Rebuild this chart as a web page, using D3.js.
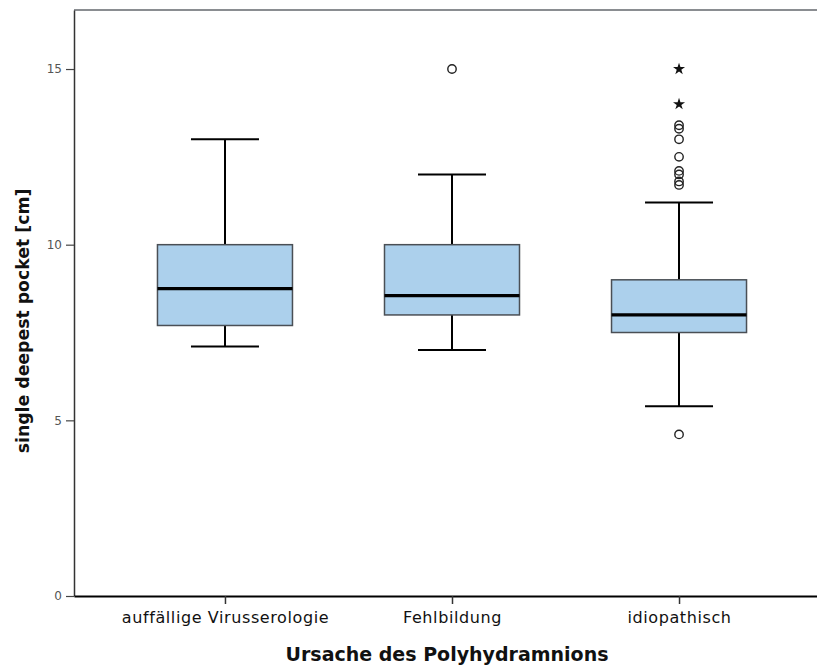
<!DOCTYPE html>
<html>
<head>
<meta charset="utf-8">
<script src="https://cdn.jsdelivr.net/npm/d3@7"></script>
<style>
  html, body { margin: 0; padding: 0; background: #fff; }
  svg { display: block; }
</style>
</head>
<body>
<svg id="chart" width="817" height="666"></svg>
<script>
// Categories (cause of polyhydramnios)
const categories = ["auffällige Virusserologie", "Fehlbildung", "idiopathisch"];

// Box statistics per category [cm]
const lowerWhisker = [7.1, 7.0, 5.4];
const q1           = [7.7, 8.0, 7.5];
const median       = [8.75, 8.55, 8.0];
const q3           = [10.0, 10.0, 9.0];
const upperWhisker = [13.0, 12.0, 11.2];

// Outliers (circles) and extreme values (stars)
const outliers = [
  [],
  [15.0],
  [13.4, 13.3, 13.0, 12.5, 12.1, 12.0, 11.8, 11.7, 4.6]
];
const extremes = [
  [],
  [],
  [15.0, 14.0]
];

const yTicks = [0, 5, 10, 15];

const svg = d3.select("#chart");

const plot = { left: 74, top: 10, right: 830, bottom: 596 };

const x = d3.scalePoint()
  .domain(categories)
  .range([plot.left, plot.right])
  .padding(0.665);

const y = d3.scaleLinear()
  .domain([0, 16.68])
  .range([plot.bottom, plot.top]);

const boxW = 135;
const capW = 68;

// Frame: top line in grey
svg.append("line")
  .attr("x1", plot.left).attr("x2", plot.right)
  .attr("y1", plot.top).attr("y2", plot.top)
  .attr("stroke", "#8a8d91").attr("stroke-width", 2);

// Y axis
const yAxis = d3.axisLeft(y).tickValues(yTicks).tickSize(8).tickSizeOuter(0).tickPadding(4).tickFormat(d3.format("d"));
const gy = svg.append("g").attr("transform", `translate(${plot.left},0)`).call(yAxis);
gy.select(".domain").attr("stroke", "#333").attr("stroke-width", 1.5);
gy.selectAll(".tick line").attr("stroke", "#444").attr("stroke-width", 1.2);
gy.selectAll(".tick text")
  .attr("fill", "#555")
  .style("font-family", "'DejaVu Sans', Verdana, sans-serif")
  .style("font-size", "12px");

// X axis
const xAxis = d3.axisBottom(x).tickSize(8).tickSizeOuter(0).tickPadding(8);
const gx = svg.append("g").attr("transform", `translate(0,${plot.bottom})`).call(xAxis);
gx.select(".domain").attr("stroke", "#000").attr("stroke-width", 2);
gx.selectAll(".tick line").attr("stroke", "#333").attr("stroke-width", 1.5);
gx.selectAll(".tick text")
  .attr("fill", "#111")
  .style("font-family", "'DejaVu Sans', Verdana, sans-serif")
  .style("font-size", "16px")
  .style("letter-spacing", "0.6px");

// Boxes
const data = categories.map((c, i) => ({
  c, lo: lowerWhisker[i], q1: q1[i], med: median[i], q3: q3[i], hi: upperWhisker[i],
  out: outliers[i], ext: extremes[i]
}));

const g = svg.append("g");
data.forEach(d => {
  const cx = x(d.c);
  // whiskers
  g.append("line").attr("x1", cx).attr("x2", cx).attr("y1", y(d.q3)).attr("y2", y(d.hi))
    .attr("stroke", "#000").attr("stroke-width", 2);
  g.append("line").attr("x1", cx).attr("x2", cx).attr("y1", y(d.q1)).attr("y2", y(d.lo))
    .attr("stroke", "#000").attr("stroke-width", 2);
  g.append("line").attr("x1", cx - capW / 2).attr("x2", cx + capW / 2).attr("y1", y(d.hi)).attr("y2", y(d.hi))
    .attr("stroke", "#000").attr("stroke-width", 2);
  g.append("line").attr("x1", cx - capW / 2).attr("x2", cx + capW / 2).attr("y1", y(d.lo)).attr("y2", y(d.lo))
    .attr("stroke", "#000").attr("stroke-width", 2);
  // box
  g.append("rect")
    .attr("x", cx - boxW / 2).attr("width", boxW)
    .attr("y", y(d.q3)).attr("height", y(d.q1) - y(d.q3))
    .attr("fill", "#acd0ec").attr("stroke", "#4a4f55").attr("stroke-width", 1.5);
  // median
  g.append("line").attr("x1", cx - boxW / 2).attr("x2", cx + boxW / 2)
    .attr("y1", y(d.med)).attr("y2", y(d.med))
    .attr("stroke", "#000").attr("stroke-width", 3.2);
  // outliers
  d.out.forEach(v => {
    g.append("circle").attr("cx", cx).attr("cy", y(v)).attr("r", 4.2)
      .attr("fill", "none").attr("stroke", "#222").attr("stroke-width", 1.4);
  });
  // extremes
  d.ext.forEach(v => {
    g.append("path")
      .attr("d", d3.symbol().type(d3.symbolStar).size(45)())
      .attr("transform", `translate(${cx},${y(v)})`)
      .attr("fill", "#111");
  });
});

// Axis titles
svg.append("text")
  .attr("transform", `translate(29,${(plot.top + plot.bottom) / 2 + 18}) rotate(-90)`)
  .attr("text-anchor", "middle")
  .style("font-family", "'DejaVu Sans', Verdana, sans-serif")
  .style("font-size", "17.3px")
  .style("font-weight", "bold")
  .attr("fill", "#111")
  .text("single deepest pocket [cm]");

svg.append("text")
  .attr("x", 447)
  .attr("y", 661)
  .attr("text-anchor", "middle")
  .style("font-family", "'DejaVu Sans', Verdana, sans-serif")
  .style("font-size", "19px")
  .style("font-weight", "bold")
  .attr("fill", "#111")
  .text("Ursache des Polyhydramnions");
</script>
</body>
</html>
